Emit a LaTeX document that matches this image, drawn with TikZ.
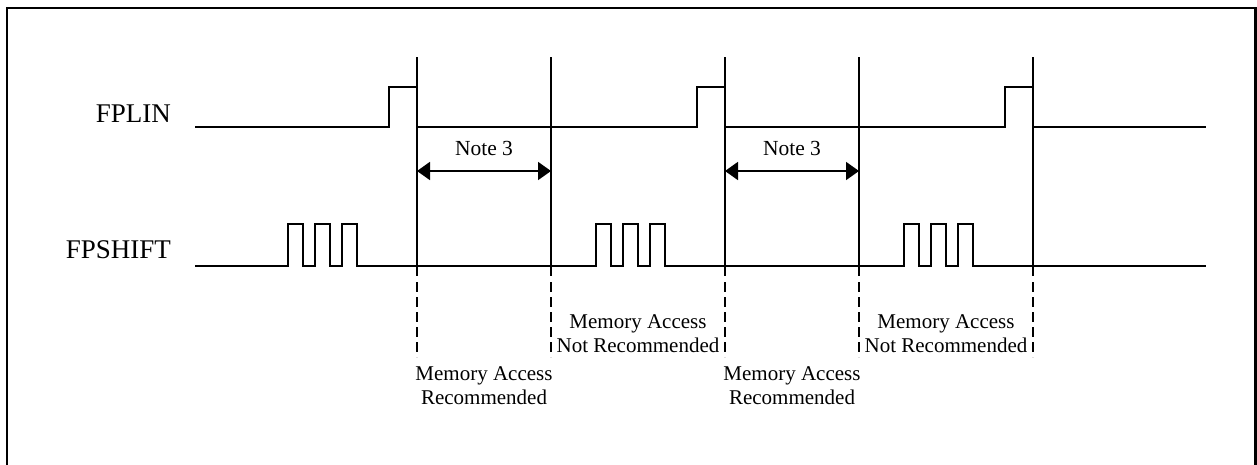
\documentclass[tikz,border=0pt]{standalone}
\usepackage{fontspec}
\setmainfont{Liberation Serif}
\usetikzlibrary{arrows.meta}
\tikzset{
  sig/.style={line width=2.6pt, line join=miter},
  marker/.style={line width=1.2pt},
  markerdash/.style={line width=1.2pt, dash pattern=on 10pt off 5pt},
  frame/.style={line width=2.6pt},
  siglabel/.style={font=\fontsize{27}{30}\selectfont, anchor=base east, inner sep=0pt},
  note/.style={font=\fontsize{21.5}{24}\selectfont, anchor=base, inner sep=0pt},
  memtext/.style={font=\fontsize{21}{24}\selectfont, align=center, inner sep=0pt},
  dimarrow/.style={line width=1.8pt, {Triangle[length=13pt,width=18pt]}-{Triangle[length=13pt,width=18pt]}}
}
\begin{document}
\begin{tikzpicture}[x=1pt,y=-1pt]
\useasboundingbox (0,0) rectangle (1257,464);
% frame (bottom edge lies outside the picture)
\draw[frame] (7,480) -- (7,8) -- (1255.5,8) -- (1255.5,480);

% labels
\node[siglabel] (fplin) at (171,122) {FPLIN};
\node[siglabel] (fpshift) at (171,258) {FPSHIFT};

% FPLIN signal
\draw[sig] (195,127) -- (389,127) -- (389,87) -- (417,87) -- (417,127)
  -- (697,127) -- (697,87) -- (725,87) -- (725,127)
  -- (1005,127) -- (1005,87) -- (1033,87) -- (1033,127) -- (1206,127);

% FPSHIFT signal
\draw[sig] (195,266)
  \foreach \o in {0,308,616} {
    -- ({288+\o},266) -- ({288+\o},224) -- ({303+\o},224) -- ({303+\o},266)
    -- ({315+\o},266) -- ({315+\o},224) -- ({330+\o},224) -- ({330+\o},266)
    -- ({342+\o},266) -- ({342+\o},224) -- ({357+\o},224) -- ({357+\o},266)
  } -- (1206,266);

% marker lines
\foreach \x/\n in {417/a,551/b,725/c,859/d,1033/e} {
  \coordinate (top\n) at (\x,57);
  \coordinate (mid\n) at (\x,276);
  \coordinate (dtop\n) at (\x,282);
  \coordinate (bot\n) at (\x,357);
  \draw[marker] (top\n) -- (mid\n);
  \draw[markerdash] (dtop\n) -- (bot\n);
}

% Note 3 arrows
\coordinate (n1l) at (417,171);
\coordinate (n1r) at (551,171);
\coordinate (n2l) at (725,171);
\coordinate (n2r) at (859,171);
\draw[dimarrow] (n1l) -- (n1r);
\draw[dimarrow] (n2l) -- (n2r);
\node[note] (note1) at (484,155) {Note 3};
\node[note] (note2) at (792,155) {Note 3};

% memory access texts
\node[memtext] (rec1) at (484,386) {Memory Access\\Recommended};
\node[memtext] (rec2) at (792,386) {Memory Access\\Recommended};
\node[memtext] (nrec1) at (638,334) {Memory Access\\Not Recommended};
\node[memtext] (nrec2) at (946,334) {Memory Access\\Not Recommended};
\end{tikzpicture}
\end{document}
